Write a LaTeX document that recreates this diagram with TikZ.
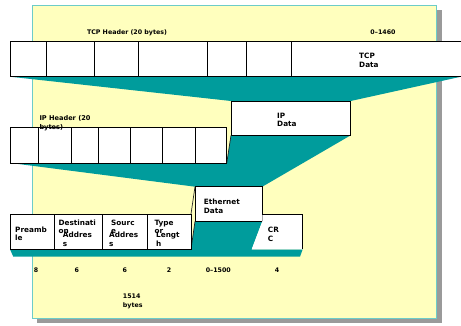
\documentclass[tikz,border=0pt]{standalone}
\usepackage{fontspec}
\setmainfont{DejaVu Sans}
\definecolor{panel}{HTML}{FFFFBE}
\definecolor{tealc}{HTML}{009C9C}
\definecolor{panelborder}{HTML}{6CCCC8}
\definecolor{shadowgray}{HTML}{9A9A9A}
\begin{document}
\begin{tikzpicture}[x=1pt,y=-1pt,
  box/.style={draw=black,line width=0.8pt,fill=white},
  edge/.style={draw=black!85,line width=0.7pt},
  lbl/.style={font=\bfseries\fontsize{7.3}{8}\selectfont,inner sep=0,anchor=base west},
  hdr/.style={font=\bfseries\fontsize{6.3}{7}\selectfont,inner sep=0,anchor=base},
  hdrl/.style={font=\bfseries\fontsize{6.3}{7}\selectfont,inner sep=0,anchor=base west}]
\useasboundingbox (0,0) rectangle (461,325);
\fill[white] (0,0) rectangle (461,325);
% panel with shadow
\fill[shadowgray] (37,10) rectangle (442,323);
\draw[fill=panel,draw=panelborder,line width=0.8pt] (32,5) rectangle (436.5,318);

% ---- teal funnels
\fill[tealc] (10,76.7) -- (461,76.7) -- (350.7,101) -- (231,101) -- cycle;
\fill[tealc] (13,163.3) -- (226.7,163.3) -- (231,135.3) -- (350.7,135.3) -- (262.3,186.7) -- (195,186.7) -- cycle;
\fill[tealc] (10,249.3) -- (191,249.3) -- (195,221.3) -- (262.3,221.3) -- (251.7,249.3)
  -- (302.7,249.3) -- (300,256.7) -- (13.3,256.7) -- cycle;

% ---- TCP row
\foreach \a/\b in {10/46,46/94.3,94.3/138.7,138.7/207.3,207.3/246.7,246.7/291}
  \draw[box] (\a,41.7) rectangle (\b,76.7);
\draw[box] (291,41.7) rectangle (470,76.7);
\node[hdr] (tcph) at (127,34.6) {TCP Header (20 bytes)};
\node[hdr] (tcpn) at (383,34.6) {0–1460};
\node[lbl] (tcpd1) at (359,58.4) {TCP};
\node[lbl] (tcpd2) at (359,67.6) {Data};

% ---- IP row
\draw[box] (231,101) rectangle (350.7,135.3);
\node[lbl] (ipd1) at (277,118.3) {IP};
\node[lbl] (ipd2) at (277,126.8) {Data};
\foreach \a/\b in {10/38.7,38.7/71,71/98.7,98.7/130.7,130.7/162.3,162.3/195,195/226.7}
  \draw[box] (\a,127.7) rectangle (\b,163.3);
\draw[edge] (231,135.3) -- (226.7,163.3);
\node[hdrl,font=\bfseries\fontsize{6.6}{7}\selectfont] (iph1) at (39.3,120.3) {IP Header (20};
\node[hdrl,font=\bfseries\fontsize{6.6}{7}\selectfont] (iph2) at (39.3,129.2) {bytes)};

% ---- Ethernet row
\draw[box] (195,186.7) rectangle (262.3,221.3);
\node[lbl] (eth1) at (203.7,204.3) {Ethernet};
\node[lbl] (eth2) at (203.7,213.3) {Data};
\draw[edge] (195,186.7) -- (191,214);
\draw[edge] (195,221.3) -- (191,249.3);
\foreach \a/\b in {10/54.3,54.3/102.7,102.7/147,147/191}
  \draw[box] (\a,214) rectangle (\b,249.3);
\fill[white] (262.3,214) -- (302.7,214) -- (302.7,249.3) -- (251.7,249.3) -- (262.3,221.3) -- cycle;
\draw[black,line width=0.8pt] (262.3,214) -- (302.7,214) -- (302.7,249.3);

\node[lbl] (pre1) at (15,232.3) {Preamb};
\node[lbl] (pre2) at (15,240.8) {le};
\node[lbl] (dst1) at (58.3,225) {Destinati};
\node[lbl] (dst2) at (58.3,233.4) {on};
\node[lbl] (dst3) at (62.7,237.8) {Addres};
\node[lbl] (dst4) at (62.7,246.3) {s};
\node[lbl] (src1) at (111,225) {Sourc};
\node[lbl] (src2) at (111,233.4) {e};
\node[lbl] (src3) at (109,237.8) {Addres};
\node[lbl] (src4) at (109,246.3) {s};
\node[lbl] (typ1) at (154.3,225) {Type};
\node[lbl] (typ2) at (154.3,233.4) {or};
\node[lbl] (typ3) at (156,237.8) {Lengt};
\node[lbl] (typ4) at (156,246.3) {h};
\node[lbl] (crc1) at (267.7,232.3) {CR};
\node[lbl] (crc2) at (267.7,241) {C};

% ---- byte counts
\node[hdr] (n1) at (36,272.3) {8};
\node[hdr] (n2) at (76.7,272.3) {6};
\node[hdr] (n3) at (124.7,272.3) {6};
\node[hdr] (n4) at (169,272.3) {2};
\node[hdr] (n5) at (218.3,272.3) {0–1500};
\node[hdr] (n6) at (277,272.3) {4};
\node[hdrl] (tot1) at (122.7,298) {1514};
\node[hdrl] (tot2) at (122.7,307.2) {bytes};
\end{tikzpicture}
\end{document}
